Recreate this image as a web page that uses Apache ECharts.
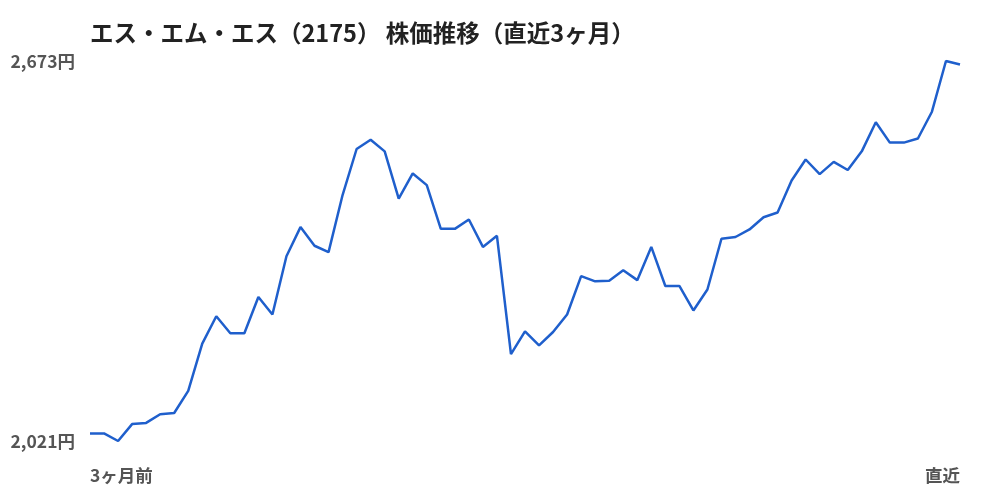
<!DOCTYPE html>
<html>
<head>
<meta charset="utf-8">
<script src="https://cdn.jsdelivr.net/npm/echarts@6/dist/echarts.min.js"></script>
<style>
html,body{margin:0;padding:0;background:#fff;}
#chart{width:1000px;height:500px;}
</style>
</head>
<body>
<div id="chart"></div>
<script>
const titleText = 'エス・エム・エス（2175） 株価推移（直近3ヶ月）';
const startLabel = '3ヶ月前';
const endLabel = '直近';
const prices = [
  2034, 2034, 2021, 2050, 2052, 2067, 2069, 2107, 2188, 2235,
  2206, 2206, 2268, 2238, 2338, 2388, 2356, 2345, 2443, 2522,
  2538, 2518, 2437, 2480, 2460, 2385, 2385, 2401, 2354, 2373,
  2170, 2209, 2185, 2208, 2238, 2304, 2295, 2296, 2314, 2297,
  2354, 2287, 2287, 2245, 2281, 2368, 2371, 2384, 2405, 2413,
  2468, 2504, 2479, 2500, 2486, 2518, 2568, 2533, 2533, 2540,
  2586, 2673, 2667
];
const days = prices.map((_, i) => i);
const yMin = Math.min(...prices);
const yMax = Math.max(...prices);

const font = '"Noto Sans CJK JP", "Noto Sans", sans-serif';
const chart = echarts.init(document.getElementById('chart'));
chart.setOption({
  animation: false,
  backgroundColor: '#fff',
  title: {
    text: titleText,
    left: 85,
    top: 16,
    textStyle: { fontFamily: font, fontSize: 23.5, fontWeight: 'bold', color: '#222' }
  },
  grid: { left: 90, right: 40, top: 61, bottom: 59, containLabel: false },
  xAxis: {
    type: 'category',
    data: days,
    boundaryGap: false,
    axisLine: { show: false },
    axisTick: { show: false },
    splitLine: { show: false },
    axisLabel: {
      interval: (idx) => idx === 0 || idx === days.length - 1,
      formatter: (v, idx) => idx === 0 ? startLabel : (idx === days.length - 1 ? endLabel : ''),
      alignMinLabel: 'left',
      alignMaxLabel: 'right',
      margin: 26,
      fontFamily: font, fontSize: 17.5, fontWeight: 'bold', color: '#555'
    }
  },
  yAxis: {
    type: 'value',
    min: yMin,
    max: yMax,
    interval: yMax - yMin,
    axisLine: { show: false },
    axisTick: { show: false },
    splitLine: { show: false },
    axisLabel: {
      margin: 15,
      formatter: (v) => v.toLocaleString('en-US') + '円',
      fontFamily: font, fontSize: 17.5, fontWeight: 'bold', color: '#555'
    }
  },
  series: [{
    type: 'line',
    data: prices,
    symbol: 'none',
    lineStyle: { color: '#1f5fcc', width: 2.5 }
  }]
});
</script>
</body>
</html>
